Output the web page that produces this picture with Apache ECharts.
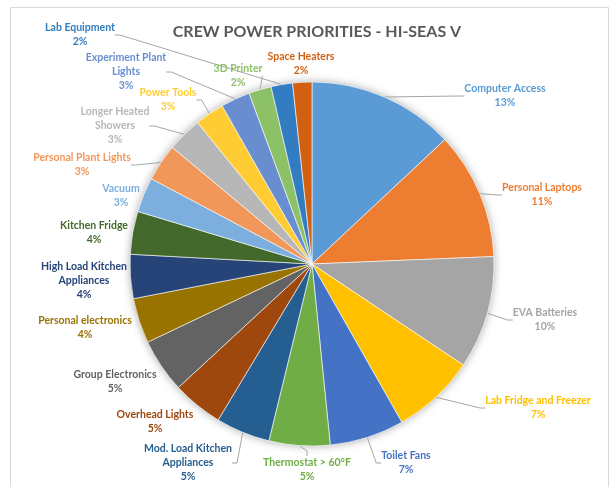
<!DOCTYPE html>
<html><head><meta charset="utf-8">
<script src="https://cdn.jsdelivr.net/npm/echarts@6/dist/echarts.min.js"></script>
<style>html,body{margin:0;padding:0;background:#fff}#c{width:611px;height:487px}</style>
</head><body><div id="c"></div>
<script>
const titleText = 'CREW POWER PRIORITIES - HI-SEAS V';
const categories = [
  'Computer Access', 'Personal Laptops', 'EVA Batteries', 'Lab Fridge and Freezer',
  'Toilet Fans', 'Thermostat > 60°F', 'Mod. Load Kitchen\nAppliances', 'Overhead Lights',
  'Group Electronics', 'Personal electronics', 'High Load Kitchen\nAppliances', 'Kitchen Fridge',
  'Vacuum', 'Personal Plant Lights', 'Longer Heated\nShowers', 'Power Tools',
  'Experiment Plant\nLights', '3D Printer', 'Lab Equipment', 'Space Heaters'
];
const values = [13.0, 11.3, 10.0, 7.4, 6.6, 5.4, 4.8, 4.5, 4.8, 4.0, 3.9, 3.8, 3.1, 3.3, 3.1, 2.6, 2.6, 2.0, 1.9, 1.7];
const colors = [
  '#5B9BD5', '#ED7D31', '#A5A5A5', '#FFC000', '#4472C4', '#70AD47', '#255E91', '#9E480E',
  '#636363', '#997300', '#264478', '#43682B', '#7CAFDD', '#F1975A', '#B7B7B7', '#FFCD33',
  '#698ED0', '#8CC168', '#327DC2', '#D26012'
];
const hasLeader = [true, true, true, true, true, true, true, false, false, false, false, false, false, true, true, true, true, true, true, false];
// label block centres (annotation layout)
const labelCentres = [
  [505, 96], [542, 195], [545, 320], [538, 408], [406, 463], [307, 470], [188, 463], [155, 422],
  [115, 382], [85, 328], [84, 281], [94, 233], [121, 196], [82, 165], [115, 126], [168, 100],
  [126, 72], [238, 76], [80, 35], [301, 64]
];

const chart = echarts.init(document.getElementById('c'), null, {renderer: 'canvas'});
const total = values.reduce((a, b) => a + b, 0);
chart.setOption({
  animation: false,
  backgroundColor: '#fff',
  title: {
    text: titleText, left: 312, top: 19, textAlign: 'center',
    textStyle: {fontFamily: 'Lato', fontWeight: 'bold', fontSize: 16, color: '#595959'}
  },
  graphic: [{
    type: 'rect', shape: {x: 10.5, y: 7.5, width: 598, height: 500},
    style: {fill: 'none', stroke: '#D9D9D9', lineWidth: 1}, silent: true, z: -1
  }],
  series: [
    {
      type: 'pie', silent: true, center: [312, 264], radius: 182, z: 1,
      label: {show: false}, labelLine: {show: false},
      itemStyle: {color: '#fff', shadowBlur: 8, shadowColor: 'rgba(0,0,0,0.35)'},
      data: [{value: 1}]
    },
    {
      type: 'pie', center: [312, 264], radius: 182, startAngle: 90, clockwise: true, z: 2,
      avoidLabelOverlap: false,
      itemStyle: {borderColor: '#fff', borderWidth: 0.6},
      label: {
        show: true, position: 'outside',
        fontFamily: 'Lato', fontWeight: 'bold', fontSize: 10.5, lineHeight: 14,
        formatter: p => p.name + '\n' + Math.round(p.value / total * 100) + '%'
      },
      labelLine: {show: true, length: 8, length2: 5, lineStyle: {color: '#A6A6A6', width: 1}},
      labelLayout: function (params) {
        const c = labelCentres[params.dataIndex];
        return {x: c[0], y: c[1], align: 'center', verticalAlign: 'middle'};
      },
      data: categories.map((n, i) => ({
        name: n, value: values[i],
        itemStyle: {color: colors[i]},
        label: {color: colors[i]},
        labelLine: {show: hasLeader[i]}
      }))
    }
  ]
});
</script></body></html>
